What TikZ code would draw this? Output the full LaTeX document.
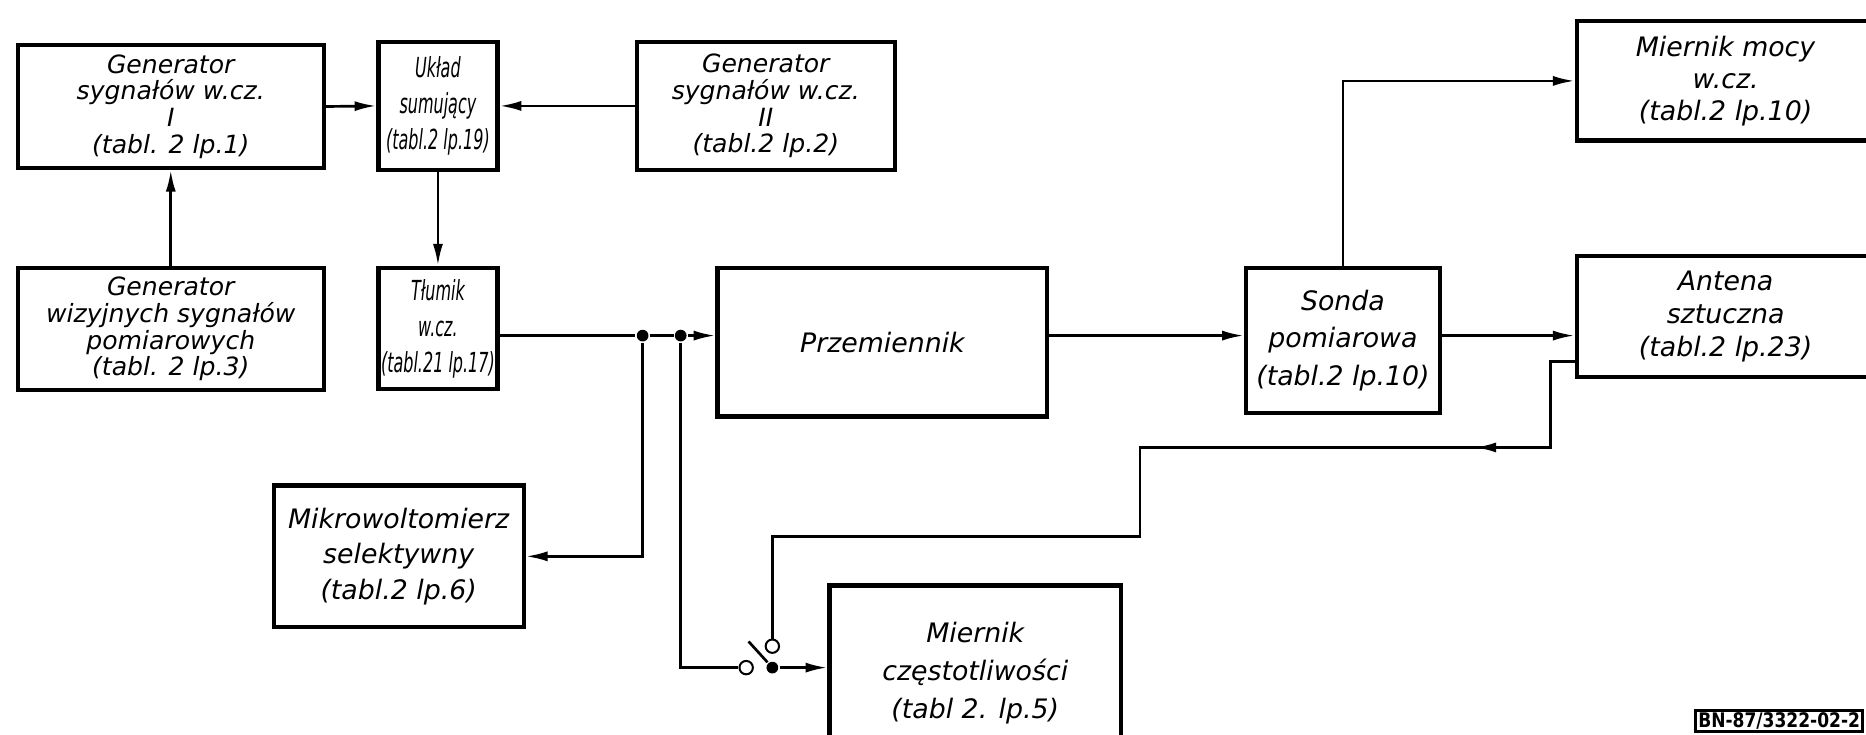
\documentclass[tikz,border=0pt]{standalone}
\usepackage{fontspec}
\setmainfont{DejaVu Sans}
\newfontfamily\waski[FakeStretch=0.58]{DejaVu Sans}
\newfontfamily\znakfont[FakeStretch=0.85]{DejaVu Sans}
\usepackage{tikz}
\usetikzlibrary{arrows.meta}

\begin{document}
\begin{tikzpicture}[x=0.025cm,y=-0.025cm,>={Latex[length=13pt,width=6pt]},line width=1.6pt,
  blok/.style={draw,line width=2.5pt,align=center,inner sep=0pt,font=\itshape\fontsize{15}{16}\selectfont},
  rzadko/.style={font=\itshape\fontsize{16}{#1}\selectfont},
  wasko/.style={font=\waski\itshape\fontsize{16.5}{21.5}\selectfont},
  wezel/.style={circle,fill,inner sep=0pt,minimum size=7pt},
  zacisk/.style={circle,draw,fill=white,line width=1.2pt,inner sep=0pt,minimum size=8pt}]
  \useasboundingbox (0,0) rectangle (1568,617);
  \clip (0,0) rectangle (1568,617);
  % bloki
  \node[blok,minimum width=6.425cm,minimum height=2.575cm] (gen1) at (143.5,89.5) {Generator\\sygnałów w.cz.\\I\\(tabl. 2 lp.1)};
  \node[blok,wasko,minimum width=2.5cm,minimum height=2.7cm] (uklad) at (368,89) {Układ\\sumujący\\(tabl.2 lp.19)};
  \node[blok,minimum width=5.425cm,minimum height=2.7cm] (gen2) at (643.5,89) {Generator\\sygnałów w.cz.\\II\\(tabl.2 lp.2)};
  \node[blok,minimum width=6.425cm,minimum height=2.575cm] (wiz) at (143.5,276.5) {Generator\\wizyjnych sygnałów\\pomiarowych\\(tabl. 2 lp.3)};
  \node[blok,wasko,minimum width=2.5cm,minimum height=2.55cm] (tlumik) at (368,276) {Tłumik\\w.cz.\\(tabl.21 lp.17)};
  \node[blok,rzadko=22,minimum width=6.925cm,minimum height=3.125cm] (przem) at (741.5,287.5) {Przemiennik};
  \node[blok,rzadko=22.5,minimum width=4.075cm,minimum height=3.05cm] (sonda) at (1128.5,286) {Sonda\\pomiarowa\\(tabl.2 lp.10)};
  \node[blok,rzadko=19,minimum width=6.25cm,minimum height=2.5cm] (mmocy) at (1450,68) {Miernik mocy\\w.cz.\\(tabl.2 lp.10)};
  \node[blok,rzadko=20,minimum width=6.25cm,minimum height=2.55cm] (antena) at (1450,266) {Antena\\sztuczna\\(tabl.2 lp.23)};
  \node[blok,rzadko=21.3,minimum width=5.25cm,minimum height=2.975cm] (mikro) at (335,467.5) {Mikrowoltomierz\\selektywny\\(tabl.2 lp.6)};
  \node[blok,rzadko=22.7,minimum width=6.125cm,minimum height=3.7cm] (czest) at (819.5,566) {Miernik\\częstotliwości\\(tabl 2. lp.5)};
  \node[draw,line width=1.8pt,inner sep=1pt,font=\znakfont\bfseries\fontsize{12}{12}\selectfont,minimum width=3.5cm,minimum height=0.45cm] (znak) at (1495,606) {BN-87/3322-02-2};
  % wezly i przelacznik
  \node[wezel] (j1) at (540,282) {};
  \node[wezel] (j2) at (572,282) {};
  \node[zacisk] (swL) at (627,561) {};
  \node[zacisk] (swU) at (649,543) {};
  \node[wezel] (swP) at (649,561) {};
  \coordinate (noz) at (629,539);
  \coordinate (k1) at (1303,376);
  \coordinate (k2) at (958,451);
  % polaczenia
  \draw[->] (gen1.east) -- (uklad.west);
  \draw[->] (gen2.west) -- (uklad.east);
  \draw[->] (wiz.north) -- (gen1.south);
  \draw[->] (uklad.south) -- (tlumik.north);
  \draw (tlumik.east |- j1) -- (j1) -- (j2);
  \draw[->] (j2) -- (przem.west |- j2);
  \draw[->] (przem.east |- j1) -- (sonda.west |- j1);
  \draw[->] (sonda.east |- j1) -- (antena.west |- j1);
  \draw[->] (sonda.north) |- (mmocy.west);
  \draw[->] (j1) |- (mikro.east);
  \draw (j2) |- (swL.west);
  \draw (swP) -- (noz);
  \draw[->] (swP) -- (czest.west |- swP);
  \draw ([yshift=.375cm]antena.south west) -| (k1) -| (k2) -| (swU.north);
  \draw[->] (k1) -- ++(-64,0);
\end{tikzpicture}
\end{document}
